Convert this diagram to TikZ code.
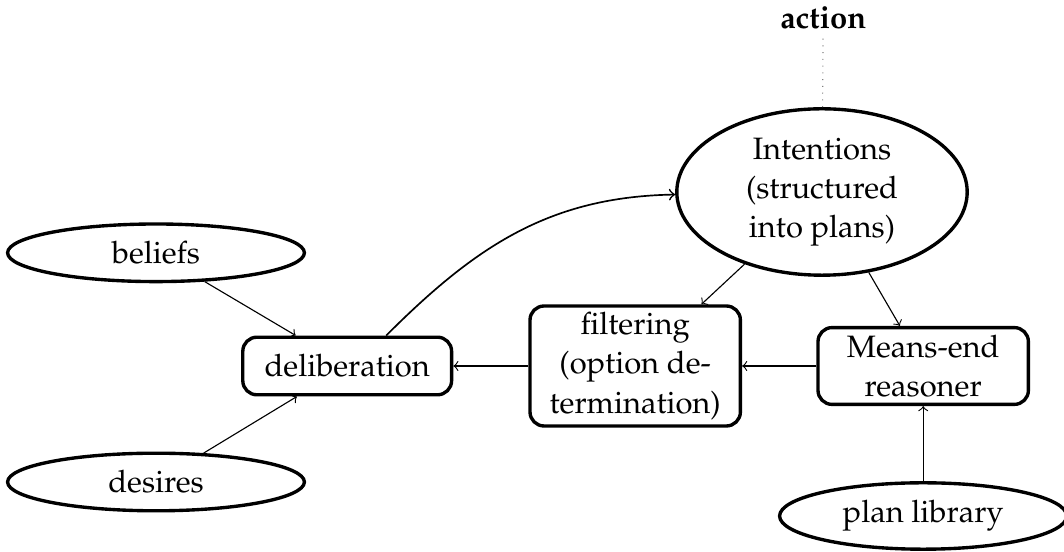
\documentclass[tikz,border=0pt]{standalone}
\usepackage[T1]{fontenc}
\usepackage{mathpazo}
\usepackage{tikz}
\usetikzlibrary{shapes.geometric}

\begin{document}
\begin{tikzpicture}[
  font=\fontsize{11}{13.9}\selectfont,
  box/.style={draw,very thick,rounded corners=5pt,align=center,inner sep=0pt},
  blob/.style={draw,very thick,ellipse,inner sep=0pt,align=center},
  link/.style={->}]
\useasboundingbox (0,0) rectangle (13.3,6.9);

% estados mentales
\node[blob,minimum width=3.71cm,minimum height=0.72cm] (beliefs) at (1.95,3.74) {beliefs};
\node[blob,minimum width=3.71cm,minimum height=0.72cm] (desires) at (1.95,0.875) {desires};
\node[blob,minimum width=3.63cm,minimum height=2.08cm] (intentions) at (10.275,4.5)
  {Intentions\\(structured\\into plans)};
\node[blob,minimum width=3.59cm,minimum height=0.83cm] (library) at (11.54,0.45) {plan library};

% procesos
\node[box,minimum width=2.61cm,minimum height=0.72cm] (delib) at (4.34,2.325) {deliberation};
\node[box,minimum width=2.63cm,minimum height=1.5cm] (filter) at (7.94,2.325)
  {filtering\\(option de-\\termination)};
\node[box,minimum width=2.63cm,minimum height=0.96cm] (reasoner) at (11.54,2.325)
  {Means-end\\reasoner};

% salida
\node[font=\fontsize{11}{13.9}\bfseries] (action) at (10.29,6.68) {action};
\draw[dotted,gray] (action) -- (intentions);

% flechas
\draw[link] (beliefs) -- (delib);
\draw[link] (desires) -- (delib);
\draw[link,semithick] (delib.38) to[out=45,in=181] (intentions);
\draw[link] (filter) -- (delib);
\draw[link] (reasoner) -- (filter);
\draw[link] (intentions) -- (filter);
\draw[link] (intentions) -- (reasoner);
\draw[link] (library) -- (reasoner);
\end{tikzpicture}
\end{document}
